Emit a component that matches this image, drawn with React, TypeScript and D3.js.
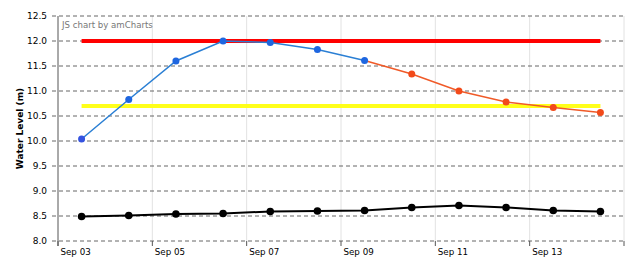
import React from "react";
import * as d3 from "d3";

const dates: string[] = [
  "2015-09-03", "2015-09-04", "2015-09-05", "2015-09-06", "2015-09-07", "2015-09-08",
  "2015-09-09", "2015-09-10", "2015-09-11", "2015-09-12", "2015-09-13", "2015-09-14",
];
const observed: (number | null)[] = [10.04, 10.83, 11.6, 12.0, 11.97, 11.83, 11.61, null, null, null, null, null];
const forecast: (number | null)[] = [null, null, null, null, null, null, 11.61, 11.34, 11.0, 10.78, 10.67, 10.57];
const baseLevel: number[] = [8.49, 8.51, 8.54, 8.55, 8.59, 8.6, 8.61, 8.67, 8.71, 8.67, 8.61, 8.59];
const floodLevel = 12.0;
const warningLevel = 10.7;
const yTicks: number[] = [8.0, 8.5, 9.0, 9.5, 10.0, 10.5, 11.0, 11.5, 12.0, 12.5];
const xTickDates: string[] = ["2015-09-03", "2015-09-05", "2015-09-07", "2015-09-09", "2015-09-11", "2015-09-13", "2015-09-15"];
const xLabels: string[] = ["Sep 03", "Sep 05", "Sep 07", "Sep 09", "Sep 11", "Sep 13"];

const W = 640, H = 264;
const L = 58, R = 624, T = 16, B = 241;
const FONT = "Verdana, 'DejaVu Sans', sans-serif";

const noon = (s: string) => new Date(s + "T12:00:00Z");
const mid = (s: string) => new Date(s + "T00:00:00Z");

export default function App() {
  const x = d3.scaleUtc().domain([mid("2015-09-03"), mid("2015-09-15")]).range([L, R]);
  const y = d3.scaleLinear().domain([8, 12.5]).range([B, T]);

  type P = { d: Date; v: number | null };
  const mk = (arr: (number | null)[]): P[] => arr.map((v, i) => ({ d: noon(dates[i]), v }));
  const line = d3.line<P>().defined((p) => p.v != null).x((p) => x(p.d)).y((p) => y(p.v as number));

  const obs = mk(observed);
  const fc = mk(forecast);
  const base = mk(baseLevel);
  const x0 = x(noon(dates[0]));
  const x1 = x(noon(dates[dates.length - 1]));

  return (
    <svg width={W} height={H} style={{ position: "absolute", left: 0, top: 0, background: "#fff" }} fontFamily={FONT}>
      <rect x={0} y={0} width={W} height={H} fill="#fff" />
      {/* vertical grid */}
      {xTickDates.slice(1).map((s) => (
        <line key={s} x1={x(mid(s))} x2={x(mid(s))} y1={T} y2={B} stroke="#e2e2e2" strokeWidth={1} />
      ))}
      {/* horizontal dashed grid */}
      {yTicks.map((t) => (
        <line key={t} x1={L - 6} x2={R} y1={y(t)} y2={y(t)} stroke="#666" strokeWidth={1} strokeDasharray="4,3" />
      ))}
      {/* left axis */}
      <line x1={L} x2={L} y1={T} y2={B + 5} stroke="#555" strokeWidth={1} />
      {/* bottom ticks */}
      {xTickDates.map((s) => (
        <line key={s} x1={x(mid(s))} x2={x(mid(s))} y1={B} y2={B + 5} stroke="#555" strokeWidth={1} />
      ))}
      {/* y labels */}
      {yTicks.map((t) => (
        <text key={t} x={L - 11} y={y(t)} dy="0.35em" textAnchor="end" fontSize={9} fill="#000">
          {t.toFixed(1)}
        </text>
      ))}
      {/* x labels */}
      {xLabels.map((lab, i) => (
        <text key={lab} x={x(mid(xTickDates[i])) + 2.5} y={252} dy="0.35em" fontSize={8.7} fill="#000">
          {lab}
        </text>
      ))}
      <text transform={`translate(23,${(T + B) / 2}) rotate(-90)`} textAnchor="middle" fontSize={9} fontWeight="bold" fill="#000">
        Water Level (m)
      </text>
      <text x={62} y={25} dy="0.35em" fontSize={8.6} fill="#777">JS chart by amCharts</text>
      {/* guide lines */}
      <line x1={x0} x2={x1} y1={y(floodLevel)} y2={y(floodLevel)} stroke="#ff0000" strokeWidth={4} />
      <line x1={x0} x2={x1} y1={y(warningLevel)} y2={y(warningLevel)} stroke="#ffff1a" strokeWidth={4} />
      {/* series */}
      <path d={line(base) || ""} fill="none" stroke="#000" strokeWidth={2} />
      {base.map((p, i) => (
        <circle key={i} cx={x(p.d)} cy={y(p.v as number)} r={3.8} fill="#000" />
      ))}
      <path d={line(fc) || ""} fill="none" stroke="#f05a28" strokeWidth={1.5} />
      {fc.filter((p, i) => p.v != null && observed[i] == null).map((p, i) => (
        <circle key={i} cx={x(p.d)} cy={y(p.v as number)} r={3.5} fill="#f24a1a" />
      ))}
      <path d={line(obs) || ""} fill="none" stroke="#2a7fd4" strokeWidth={1.5} />
      {obs.filter((p) => p.v != null).map((p, i) => (
        <circle key={i} cx={x(p.d)} cy={y(p.v as number)} r={3.5} fill={i === 0 ? "#3553e0" : "#1e66e0"} />
      ))}
    </svg>
  );
}
